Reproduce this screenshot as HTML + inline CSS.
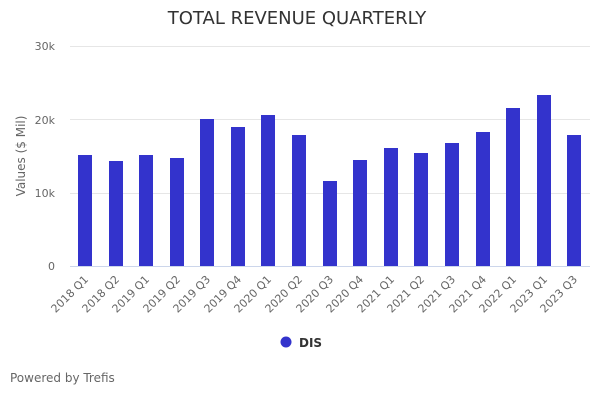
<!DOCTYPE html>
<html><head><meta charset="utf-8"><style>
html,body{margin:0;padding:0;background:#fff;}
svg{display:block;font-family:"DejaVu Sans","Liberation Sans",sans-serif;}
</style></head><body>
<svg width="600" height="400" viewBox="0 0 600 400" xmlns="http://www.w3.org/2000/svg">
<rect width="600" height="400" fill="#fff"/>
<text x="297" y="24" text-anchor="middle" font-size="18" fill="#333">TOTAL REVENUE QUARTERLY</text>
<g stroke="#e6e6e6" stroke-width="1">
<line x1="70" y1="46.5" x2="590" y2="46.5"/>
<line x1="70" y1="119.5" x2="590" y2="119.5"/>
<line x1="70" y1="193.5" x2="590" y2="193.5"/>
</g>
<g font-size="11" fill="#666" text-anchor="end">
<text x="55" y="50">30k</text>
<text x="55" y="124">20k</text>
<text x="55" y="197">10k</text>
<text x="55" y="270">0</text>
</g>
<text transform="translate(25,156) rotate(-90)" text-anchor="middle" font-size="12" fill="#666">Values ($ Mil)</text>
<g fill="#3333cc">
<rect x="78" y="155" width="14" height="111"/>
<rect x="109" y="161" width="14" height="105"/>
<rect x="139" y="155" width="14" height="111"/>
<rect x="170" y="158" width="14" height="108"/>
<rect x="200" y="119" width="14" height="147"/>
<rect x="231" y="127" width="14" height="139"/>
<rect x="261" y="115" width="14" height="151"/>
<rect x="292" y="135" width="14" height="131"/>
<rect x="323" y="181" width="14" height="85"/>
<rect x="353" y="160" width="14" height="106"/>
<rect x="384" y="148" width="14" height="118"/>
<rect x="414" y="153" width="14" height="113"/>
<rect x="445" y="143" width="14" height="123"/>
<rect x="476" y="132" width="14" height="134"/>
<rect x="506" y="108" width="14" height="158"/>
<rect x="537" y="95" width="14" height="171"/>
<rect x="567" y="135" width="14" height="131"/>
</g>
<line x1="70" y1="266.5" x2="590" y2="266.5" stroke="#ccd6eb" stroke-width="1"/>
<g font-size="11" fill="#666" text-anchor="end">
<text transform="translate(89,280) rotate(-45)">2018 Q1</text>
<text transform="translate(120,280) rotate(-45)">2018 Q2</text>
<text transform="translate(150,280) rotate(-45)">2019 Q1</text>
<text transform="translate(181,280) rotate(-45)">2019 Q2</text>
<text transform="translate(211,280) rotate(-45)">2019 Q3</text>
<text transform="translate(242,280) rotate(-45)">2019 Q4</text>
<text transform="translate(272,280) rotate(-45)">2020 Q1</text>
<text transform="translate(303,280) rotate(-45)">2020 Q2</text>
<text transform="translate(334,280) rotate(-45)">2020 Q3</text>
<text transform="translate(364,280) rotate(-45)">2020 Q4</text>
<text transform="translate(395,280) rotate(-45)">2021 Q1</text>
<text transform="translate(425,280) rotate(-45)">2021 Q2</text>
<text transform="translate(456,280) rotate(-45)">2021 Q3</text>
<text transform="translate(487,280) rotate(-45)">2021 Q4</text>
<text transform="translate(517,280) rotate(-45)">2022 Q1</text>
<text transform="translate(548,280) rotate(-45)">2023 Q1</text>
<text transform="translate(578,280) rotate(-45)">2023 Q3</text>
</g>
<circle cx="286" cy="342" r="5.5" fill="#3333cc"/>
<text x="299" y="347" font-size="12" font-weight="bold" fill="#333">DIS</text>
<text x="10" y="382" font-size="12" fill="#666">Powered by Trefis</text>
</svg>
</body></html>
